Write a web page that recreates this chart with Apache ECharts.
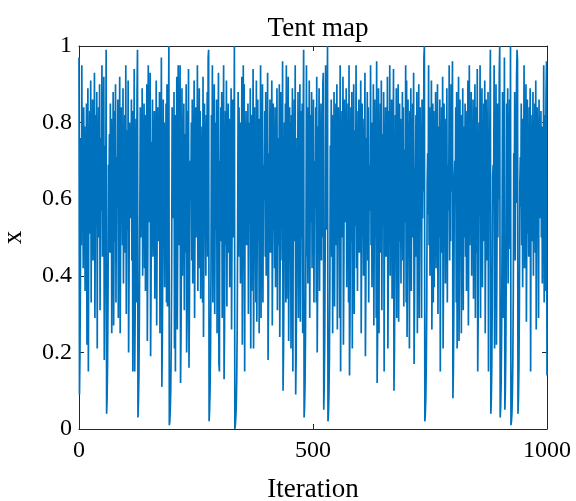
<!DOCTYPE html>
<html>
<head>
<meta charset="utf-8">
<script src="https://cdn.jsdelivr.net/npm/echarts@6/dist/echarts.min.js"></script>
<style>
  html, body { margin: 0; padding: 0; background: #ffffff; }
  #chart { width: 576px; height: 501px; }
</style>
</head>
<body>
<div id="chart"></div>
<script>
// Tent map orbit: x value at each iteration 0..1000
const tentValues = [
  0.97,0.09,0.19,0.38,0.76,0.48,0.95,0.55,0.81,0.42,0.84,0.61,0.79,0.36,0.72,0.57,0.85,0.22,0.45,0.89,
  0.15,0.69,0.62,0.83,0.51,0.91,0.33,0.78,0.64,0.86,0.44,0.75,0.58,0.93,0.29,0.6,0.82,0.53,0.88,0.21,
  0.79,0.66,0.84,0.5,0.9,0.31,0.63,0.76,0.57,0.95,0.45,0.8,0.68,0.92,0.18,0.37,0.74,0.52,0.99,0.04,
  0.08,0.17,0.34,0.69,0.62,0.77,0.46,0.85,0.56,0.81,0.25,0.73,0.6,0.88,0.27,0.54,0.83,0.49,0.9,0.33,
  0.66,0.71,0.58,0.86,0.29,0.79,0.65,0.92,0.25,0.51,0.84,0.62,0.75,0.48,0.89,0.38,0.7,0.57,0.82,0.46,
  0.95,0.3,0.6,0.78,0.52,0.91,0.2,0.41,0.8,0.64,0.73,0.55,0.86,0.44,0.83,0.15,0.67,0.61,0.94,0.15,
  0.3,0.59,0.81,0.33,0.88,0.99,0.03,0.07,0.14,0.29,0.57,0.84,0.5,0.76,0.63,0.89,0.4,0.79,0.56,0.85,
  0.42,0.82,0.36,0.71,0.65,0.9,0.23,0.46,0.95,0.54,0.78,0.6,0.93,0.19,0.38,0.75,0.5,0.86,0.45,0.8,
  0.68,0.83,0.34,0.67,0.58,0.91,0.27,0.53,0.84,0.49,0.77,0.62,0.88,0.25,0.74,0.56,0.97,0.11,0.22,0.44,
  0.86,0.52,0.8,0.37,0.73,0.64,0.85,0.33,0.9,0.32,0.65,0.71,1.0,0.01,0.02,0.05,0.1,0.21,0.42,0.84,
  0.6,0.79,0.55,0.88,0.21,0.82,0.15,0.69,0.63,0.92,0.26,0.52,0.95,0.48,0.76,0.58,0.95,0.12,0.25,0.5,
  0.89,0.4,0.81,0.57,0.85,0.31,0.62,0.77,0.46,0.9,0.2,0.29,0.83,0.53,0.94,0.16,0.33,0.66,0.7,0.6,
  0.8,0.44,0.86,0.38,0.75,0.51,0.91,0.29,0.58,0.84,0.5,0.78,0.64,0.95,0.36,0.72,0.56,0.89,0.42,0.83,
  0.34,0.68,0.63,0.79,0.33,0.92,0.24,0.49,0.85,0.55,0.8,0.4,0.82,0.61,0.88,0.45,0.97,0.99,0.02,0.05,
  0.1,0.2,0.41,0.82,0.54,0.95,0.33,0.78,0.65,0.9,0.3,0.6,0.8,0.52,0.86,0.25,0.76,0.57,0.93,0.17,
  0.15,0.7,0.62,0.84,0.49,0.88,0.29,0.79,0.59,0.95,0.13,0.27,0.55,0.83,0.48,0.91,0.32,0.64,0.72,0.85,
  0.46,0.81,0.37,0.74,0.58,0.89,0.26,0.53,0.86,0.5,0.77,0.63,1.0,0.0,0.01,0.03,0.06,0.13,0.26,0.52,
  0.88,0.45,0.84,0.57,0.8,0.38,0.76,0.61,0.92,0.22,0.44,0.95,0.51,0.9,0.15,0.7,0.66,0.83,0.48,0.79,
  0.58,0.85,0.3,0.6,0.8,0.54,0.89,0.21,0.82,0.36,0.73,0.62,0.94,0.21,0.42,0.84,0.53,0.78,0.33,0.91,
  0.28,0.56,0.86,0.49,0.81,0.25,0.77,0.63,0.95,0.29,0.85,0.55,0.9,0.33,0.67,0.69,0.6,0.83,0.45,0.88,
  0.4,0.8,0.5,0.93,0.18,0.36,0.72,0.57,0.86,0.46,0.82,0.61,0.91,0.27,0.54,0.85,0.52,0.79,0.42,0.84,
  0.37,0.74,0.59,0.89,0.31,0.63,0.76,0.48,0.9,0.24,0.48,0.88,0.56,0.83,0.44,0.96,0.1,0.2,0.4,0.8,
  0.58,0.85,0.33,0.95,0.34,0.68,0.64,0.92,0.23,0.46,0.84,0.53,0.8,0.21,0.82,0.6,0.89,0.15,0.71,0.62,
  0.86,0.49,0.95,0.09,0.19,0.38,0.76,0.55,0.88,0.29,0.81,0.57,0.9,0.28,0.57,0.83,0.5,0.85,0.25,0.78,
  0.99,0.03,0.06,0.12,0.25,0.5,0.95,0.45,0.84,0.38,0.75,0.62,0.91,0.29,0.59,0.82,0.54,0.88,0.42,0.8,
  0.61,0.86,0.33,0.66,0.7,0.58,0.84,0.33,0.92,0.2,0.4,0.79,0.63,0.89,0.36,0.73,0.56,0.85,0.44,0.83,
  0.5,0.9,0.93,0.05,0.11,0.23,0.46,0.95,0.52,0.78,0.6,1.0,0.02,0.04,0.09,0.18,0.37,0.74,0.57,0.86,
  0.45,0.82,0.25,0.79,0.64,0.88,0.32,0.65,0.71,0.85,0.48,0.9,0.26,0.52,0.84,0.56,0.81,0.29,0.95,0.15,
  0.7,0.62,0.83,0.5,0.92,0.22,0.44,0.86,0.54,0.77,0.59,0.89,0.37,0.74,0.6,0.85,0.33,0.95,0.14,0.28,
  0.56,0.84,0.49,0.88,0.21,0.8,0.63,0.9,0.3,0.61,0.78,0.53,0.95,0.42,0.83,0.36,0.72,0.58,0.86,0.46,
  0.82,0.6,0.91,0.25,0.5,0.85,0.51,0.79,0.4,0.81,0.65,0.93,0.19,0.38,0.76,0.55,0.88,0.44,0.84,0.33,
  0.66,0.69,0.57,0.95,0.48,0.8,0.37,0.75,0.61,0.9,0.27,0.54,0.86,0.5,0.82,0.29,0.96,0.12,0.24,0.48,
  0.89,0.25,0.78,0.58,0.85,0.46,0.91,0.31,0.62,0.77,0.53,0.88,0.15,0.7,0.64,0.84,0.45,0.81,0.6,0.92,
  0.21,0.42,0.83,0.52,0.95,0.4,0.8,0.56,0.86,0.34,0.68,0.65,0.94,0.1,0.2,0.41,0.82,0.55,0.89,0.29,
  0.79,0.62,0.9,0.28,0.56,0.85,0.49,0.81,0.38,0.77,0.59,0.88,0.44,0.84,0.32,0.64,0.73,0.54,0.95,0.33,
  0.91,0.24,0.47,0.86,0.53,0.8,0.21,0.83,0.6,0.89,0.36,0.71,0.63,0.85,0.5,0.93,0.17,0.34,0.68,0.66,
  0.82,0.45,0.88,0.25,0.76,0.57,0.9,0.29,0.58,0.84,0.52,0.79,0.29,0.86,0.55,0.81,0.62,0.97,1.0,0.02,
  0.04,0.08,0.16,0.32,0.64,0.72,0.56,0.95,0.48,0.84,0.4,0.8,0.59,0.91,0.26,0.52,0.85,0.33,0.83,0.37,
  0.74,0.61,0.88,0.42,0.82,0.54,0.9,0.3,0.6,0.79,0.5,0.86,0.15,0.7,0.63,0.84,0.46,0.92,0.21,0.43,
  0.85,0.51,0.81,0.38,0.77,0.58,0.89,0.33,0.66,0.69,0.57,0.95,0.44,0.83,0.49,0.9,0.62,0.78,0.96,0.08,
  0.16,0.33,0.66,0.7,0.6,0.84,0.33,0.88,0.21,0.8,0.55,0.92,0.23,0.46,0.86,0.52,0.82,0.25,0.76,0.64,
  0.89,0.31,0.63,0.79,0.5,0.85,0.45,0.83,0.36,0.72,0.58,0.91,0.27,0.54,0.95,0.48,0.81,0.6,0.88,0.4,
  0.8,0.53,0.86,0.34,0.68,0.65,0.9,0.29,0.57,0.84,0.46,0.94,0.15,0.3,0.6,0.8,0.56,0.95,0.29,0.82,
  0.62,0.89,0.37,0.74,0.59,0.85,0.49,0.91,0.25,0.5,0.86,0.44,0.83,0.58,0.88,0.15,0.7,0.66,0.81,0.99,
  0.04,0.08,0.16,0.33,0.66,0.69,0.62,0.95,0.21,0.82,0.53,0.9,0.22,0.44,0.85,0.5,0.8,0.6,0.93,1.0,
  0.03,0.06,0.12,0.25,0.5,0.88,0.29,0.84,0.56,0.97,0.05,0.1,0.21,0.42,0.85,0.51,0.89,0.38,0.77,0.62,
  0.86,0.47,1.0,0.01,0.02,0.04,0.09,0.18,0.36,0.72,0.56,0.88,0.44,0.83,0.59,0.92,0.99,0.96,0.04,0.08,
  0.16,0.32,0.64,0.71,0.58,0.85,0.48,0.81,0.37,0.75,0.6,0.95,0.42,0.83,0.54,0.9,0.28,0.56,0.86,0.51,
  0.79,0.45,0.84,0.63,0.89,0.15,0.7,0.66,0.82,0.49,0.88,0.4,0.8,0.57,0.85,0.46,0.91,0.26,0.53,0.84,
  0.58,0.81,0.29,0.86,0.62,0.74,0.55,0.83,0.5,0.79,0.38,0.76,0.61,0.95,0.33,0.82,0.36,0.72,0.88,0.96,
  0.14
];

// Axis ranges and tick positions
const xTicks = [0, 500, 1000];
const yTicks = [0, 0.2, 0.4, 0.6, 0.8, 1];

const chartTitle = 'Tent map';
const xName = 'Iteration';
const yName = 'x';

const FONT = '"Liberation Serif", "Times New Roman", serif';
const AXIS_COLOR = '#262626';
const LINE_COLOR = '#0072BD';

const seriesData = tentValues.map((v, i) => [i, v]);

const chart = echarts.init(document.getElementById('chart'), null, { renderer: 'canvas' });

const baseAxis = {
  axisLine: { show: true, onZero: false, lineStyle: { color: AXIS_COLOR, width: 1 } },
  axisTick: { show: true, inside: true, length: 5, lineStyle: { color: AXIS_COLOR, width: 1 } },
  splitLine: { show: false }
};

// plain number labels, no thousands separator
const plainLabel = (v) => String(Math.round(v * 1000) / 1000);

chart.setOption({
  animation: false,
  backgroundColor: '#ffffff',
  title: {
    text: chartTitle,
    left: 313,
    textAlign: 'center',
    top: 10,
    textStyle: { fontFamily: FONT, fontSize: 27, fontWeight: 'normal', color: '#000000' }
  },
  grid: { left: 79, right: 29, top: 46, bottom: 72, containLabel: false, outerBoundsMode: 'none' },
  xAxis: [
    Object.assign({}, baseAxis, {
      type: 'value',
      position: 'bottom',
      min: xTicks[0],
      max: xTicks[xTicks.length - 1],
      interval: xTicks[1] - xTicks[0],
      name: xName,
      nameLocation: 'middle',
      nameGap: 47,
      nameTextStyle: { fontFamily: FONT, fontSize: 27, color: '#000000' },
      axisLabel: { fontFamily: FONT, fontSize: 24, color: '#000000', margin: 10, formatter: plainLabel }
    }),
    Object.assign({}, baseAxis, {
      type: 'value',
      position: 'top',
      min: xTicks[0],
      max: xTicks[xTicks.length - 1],
      interval: xTicks[1] - xTicks[0],
      axisLabel: { show: false }
    })
  ],
  yAxis: [
    Object.assign({}, baseAxis, {
      type: 'value',
      position: 'left',
      min: yTicks[0],
      max: yTicks[yTicks.length - 1],
      interval: yTicks[1] - yTicks[0],
      name: yName,
      nameLocation: 'middle',
      nameGap: 52,
      nameRotate: 90,
      nameTextStyle: { fontFamily: FONT, fontSize: 27, color: '#000000' },
      axisLabel: { fontFamily: FONT, fontSize: 24, color: '#000000', margin: 7, formatter: plainLabel }
    }),
    Object.assign({}, baseAxis, {
      type: 'value',
      position: 'right',
      min: yTicks[0],
      max: yTicks[yTicks.length - 1],
      interval: yTicks[1] - yTicks[0],
      axisLabel: { show: false }
    })
  ],
  series: [{
    type: 'line',
    xAxisIndex: 0,
    yAxisIndex: 0,
    data: seriesData,
    showSymbol: false,
    sampling: null,
    lineStyle: { color: LINE_COLOR, width: 1.7 },
    clip: true
  }]
});
</script>
</body>
</html>
